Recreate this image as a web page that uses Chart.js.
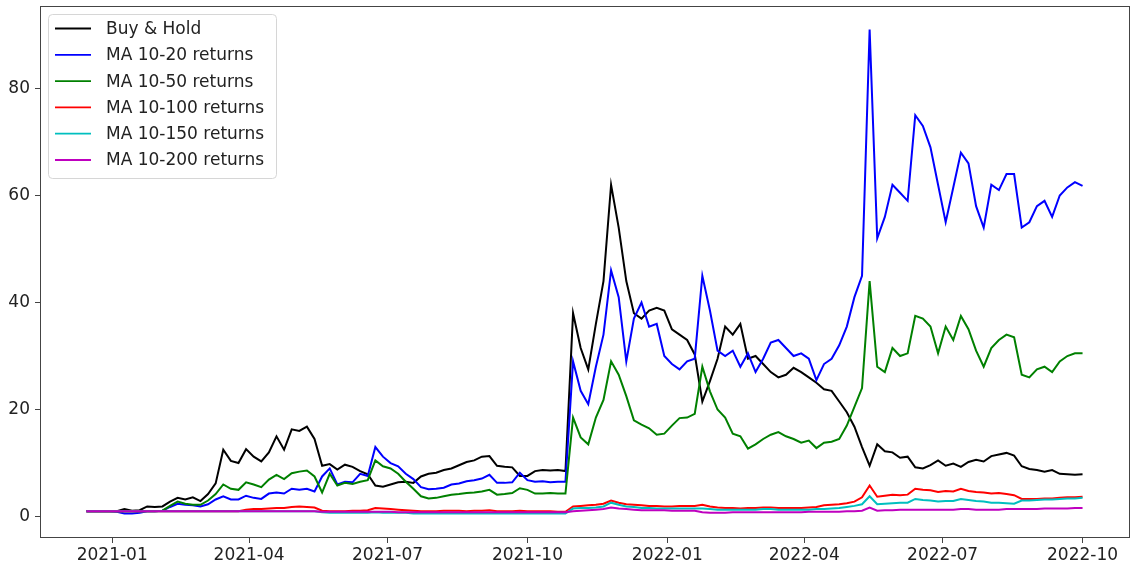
<!DOCTYPE html>
<html>
<head>
<meta charset="utf-8">
<script src="https://cdn.jsdelivr.net/npm/chart.js@4"></script>
<style>
  body { margin: 0; background: #fff; }
</style>
</head>
<body>
<canvas id="line_chart" width="1132" height="566"></canvas>
<script>
// x values are days since 2021-01-01, one point every 5 days from 2020-12-15
const firstDay = -17;
const stepDays = 5;
const tickDays = [0, 90, 181, 273, 365, 455, 546, 638];
const tickLabels = ["2021-01", "2021-04", "2021-07", "2021-10", "2022-01", "2022-04", "2022-07", "2022-10"];
const yTicks = [0, 20, 40, 60, 80];

const labels = ["Buy & Hold", "MA 10-20 returns", "MA 10-50 returns", "MA 10-100 returns", "MA 10-150 returns", "MA 10-200 returns"];
const colors = ["#000000", "#0000ff", "#008000", "#ff0000", "#00bfbf", "#bf00bf"];

const buyHold = [
  1.0,1.0,1.0,1.0,1.0,1.4,1.1,1.2,1.9,1.8,
  1.9,2.8,3.5,3.2,3.6,2.9,4.2,6.2,12.5,10.4,
  10.0,12.6,11.2,10.3,12.0,15.0,12.5,16.3,16.0,16.8,
  14.5,9.5,9.8,8.8,9.7,9.3,8.5,7.9,5.8,5.6,
  6.0,6.4,6.5,6.3,7.5,8.0,8.2,8.7,9.0,9.6,
  10.2,10.5,11.2,11.3,9.5,9.3,9.2,7.6,7.6,8.5,
  8.7,8.6,8.7,8.5,38.0,31.5,27.5,36.0,44.0,62.0,
  54.0,44.0,38.0,37.0,38.5,39.0,38.5,35.0,34.0,33.0,
  30.3,21.5,25.3,29.5,35.5,34.0,36.0,29.5,30.0,28.5,
  27.0,26.0,26.5,27.8,27.0,26.0,25.0,23.8,23.5,21.5,
  19.5,16.8,13.0,9.5,13.5,12.2,12.0,11.0,11.2,9.2,
  9.0,9.6,10.5,9.5,9.9,9.3,10.2,10.6,10.3,11.3,
  11.6,11.9,11.4,9.4,8.9,8.7,8.4,8.7,8.0,7.9,
  7.8,7.9
];
const ma20 = [
  1.0,1.0,1.0,1.0,0.9,0.6,0.6,0.7,1.0,1.0,
  1.1,1.8,2.4,2.2,2.1,1.9,2.3,3.2,3.8,3.2,
  3.2,3.9,3.5,3.3,4.3,4.5,4.3,5.2,5.0,5.2,
  4.7,7.5,9.0,6.0,6.5,6.4,8.0,7.6,13.0,11.2,
  10.0,9.4,8.0,7.0,5.5,5.1,5.2,5.4,6.0,6.2,
  6.6,6.8,7.1,7.8,6.3,6.3,6.4,8.2,6.8,6.5,
  6.6,6.4,6.5,6.5,29.0,23.5,21.0,28.0,34.0,46.0,
  41.0,29.0,37.0,40.0,35.5,36.0,30.0,28.5,27.5,29.0,
  29.5,45.0,38.5,31.0,30.0,31.0,28.0,30.5,27.0,29.5,
  32.5,33.0,31.5,30.0,30.5,29.5,25.5,28.5,29.5,32.0,
  35.5,41.0,45.0,91.0,52.0,56.0,62.0,60.5,59.0,75.0,
  73.0,69.0,62.0,55.0,61.5,68.0,66.0,58.0,54.0,62.0,
  61.0,64.0,64.0,54.0,55.0,58.0,59.0,56.0,60.0,61.5,
  62.5,61.8
];
const ma50 = [
  1.0,1.0,1.0,1.0,1.0,1.0,1.0,1.0,1.0,1.0,
  1.1,2.0,2.8,2.4,2.2,2.2,3.0,4.2,6.0,5.2,
  5.0,6.4,6.0,5.5,6.9,7.8,7.0,8.1,8.4,8.6,
  7.5,4.5,8.0,5.8,6.3,6.1,6.5,6.8,10.5,9.4,
  9.0,8.0,6.5,5.2,3.8,3.4,3.5,3.8,4.1,4.2,
  4.4,4.5,4.7,5.0,4.1,4.2,4.4,5.3,5.0,4.3,
  4.3,4.4,4.3,4.3,18.5,14.8,13.5,18.5,21.8,29.0,
  26.5,22.5,18.0,17.2,16.5,15.3,15.5,17.0,18.4,18.5,
  19.2,28.0,23.4,20.0,18.5,15.5,15.0,12.7,13.5,14.5,
  15.3,15.8,15.0,14.5,13.8,14.2,12.8,13.8,14.0,14.5,
  17.0,20.5,24.0,44.0,28.0,27.0,31.5,30.0,30.5,37.5,
  37.0,35.5,30.5,35.5,33.0,37.5,35.0,31.0,28.0,31.5,
  33.0,34.0,33.5,26.5,26.0,27.5,28.0,27.0,29.0,30.0,
  30.5,30.5
];
const ma100 = [
  1.0,1.0,1.0,1.0,1.0,1.0,1.0,1.0,1.0,1.0,
  1.0,1.0,1.0,1.0,1.0,1.0,1.0,1.0,1.0,1.0,
  1.0,1.3,1.4,1.4,1.5,1.6,1.6,1.8,1.9,1.8,
  1.7,1.1,1.0,1.0,1.0,1.1,1.1,1.2,1.6,1.5,
  1.4,1.3,1.2,1.1,1.0,1.0,1.0,1.1,1.1,1.1,
  1.0,1.1,1.1,1.2,1.0,1.0,1.0,1.1,1.0,1.0,
  1.0,1.0,0.9,0.9,1.9,2.0,2.1,2.2,2.4,3.0,
  2.6,2.3,2.2,2.1,2.0,2.0,1.9,1.9,2.0,2.0,
  2.0,2.2,1.9,1.7,1.6,1.6,1.5,1.6,1.6,1.7,
  1.7,1.6,1.6,1.6,1.6,1.7,1.8,2.1,2.2,2.3,
  2.5,2.8,3.6,5.8,3.7,3.9,4.1,4.0,4.1,5.2,
  5.0,4.9,4.6,4.8,4.7,5.2,4.8,4.6,4.5,4.3,
  4.4,4.2,4.0,3.3,3.3,3.3,3.4,3.4,3.5,3.6,
  3.6,3.7
];
const ma150 = [
  1.0,1.0,1.0,1.0,1.0,1.0,1.0,1.0,1.0,1.0,
  1.0,1.0,1.0,1.0,1.0,1.0,1.0,1.0,1.0,1.0,
  1.0,1.0,1.0,1.0,1.0,1.0,1.0,1.0,1.0,1.0,
  1.0,0.8,0.7,0.7,0.7,0.7,0.7,0.7,0.8,0.7,
  0.7,0.7,0.7,0.6,0.6,0.6,0.6,0.6,0.6,0.6,
  0.6,0.6,0.6,0.6,0.6,0.6,0.6,0.6,0.6,0.6,
  0.6,0.6,0.6,0.6,1.5,1.6,1.6,1.7,1.9,2.6,
  2.2,1.9,1.8,1.6,1.6,1.5,1.5,1.5,1.5,1.5,
  1.5,1.5,1.4,1.3,1.3,1.3,1.3,1.3,1.3,1.4,
  1.4,1.3,1.3,1.3,1.3,1.3,1.4,1.4,1.5,1.6,
  1.8,2.0,2.3,3.8,2.3,2.4,2.5,2.6,2.6,3.3,
  3.1,3.0,2.8,2.9,2.9,3.3,3.1,2.9,2.8,2.6,
  2.6,2.5,2.4,3.0,3.0,3.1,3.2,3.2,3.3,3.4,
  3.4,3.5
];
const ma200 = [
  1.0,1.0,1.0,1.0,1.0,1.0,1.0,1.0,1.0,1.0,
  1.0,1.0,1.0,1.0,1.0,1.0,1.0,1.0,1.0,1.0,
  1.0,1.0,1.0,1.0,1.0,1.0,1.0,1.0,1.0,1.0,
  1.0,0.9,0.9,0.9,0.9,0.9,0.9,0.9,0.9,0.9,
  0.9,0.8,0.8,0.8,0.8,0.8,0.8,0.8,0.8,0.8,
  0.8,0.8,0.8,0.8,0.8,0.8,0.8,0.8,0.8,0.8,
  0.8,0.8,0.8,0.8,1.0,1.1,1.2,1.3,1.4,1.7,
  1.5,1.4,1.3,1.2,1.2,1.2,1.2,1.1,1.1,1.1,
  1.1,0.8,0.7,0.7,0.7,0.8,0.8,0.8,0.8,0.8,
  0.8,0.8,0.8,0.8,0.8,0.9,0.9,0.9,0.9,0.9,
  1.0,1.0,1.1,1.7,1.1,1.2,1.2,1.3,1.3,1.3,
  1.3,1.3,1.3,1.3,1.3,1.4,1.4,1.3,1.3,1.3,
  1.3,1.4,1.4,1.4,1.4,1.4,1.5,1.5,1.5,1.5,
  1.6,1.6
];

const series = [buyHold, ma20, ma50, ma100, ma150, ma200];
const days = buyHold.map((v, i) => firstDay + i * stepDays);

const datasets = series.map((vals, i) => ({
  label: labels[i],
  data: vals.map((v, j) => ({ x: days[j], y: v })),
  borderColor: colors[i],
  backgroundColor: colors[i],
  borderWidth: 2,
  pointRadius: 0,
  tension: 0,
  order: series.length - i   // later series on top, like matplotlib
}));

const FONT = "'DejaVu Sans', sans-serif";
const TEXT = "#222";
const SPINE = "#444";

// box around plot + legend in the upper left
const frameAndLegend = {
  id: "frameAndLegend",
  afterDraw(chart) {
    const ctx = chart.ctx;
    const a = chart.chartArea;
    ctx.save();
    ctx.strokeStyle = SPINE;
    ctx.lineWidth = 1;
    ctx.strokeRect(Math.round(a.left) + 0.5, Math.round(a.top) + 0.5,
      Math.round(a.right - a.left) - 1, Math.round(a.bottom - a.top) - 1);

    const bx = 48.5, by = 14.5, bw = 228, bh = 164;
    ctx.beginPath();
    ctx.roundRect(bx, by, bw, bh, 4);
    ctx.fillStyle = "rgba(255,255,255,0.8)";
    ctx.fill();
    ctx.strokeStyle = "#d6d6d6";
    ctx.stroke();

    ctx.font = "17px " + FONT;
    ctx.textBaseline = "middle";
    ctx.textAlign = "left";
    labels.forEach((lab, i) => {
      const y = 28.5 + i * 26.3;
      ctx.beginPath();
      ctx.moveTo(55, y);
      ctx.lineTo(91, y);
      ctx.strokeStyle = colors[i];
      ctx.lineWidth = 1.8;
      ctx.stroke();
      ctx.fillStyle = TEXT;
      ctx.fillText(lab, 106, y + 1);
    });
    ctx.restore();
  }
};

const ctx1 = document.getElementById("line_chart").getContext("2d");
const chart1 = new Chart(ctx1, {
  type: "line",
  data: { datasets: datasets },
  options: {
    responsive: false,
    animation: false,
    layout: { padding: { top: 6, right: 2, left: 0, bottom: 0 } },
    plugins: {
      legend: { display: false },
      tooltip: { enabled: false }
    },
    scales: {
      x: {
        type: "linear",
        min: -47.5,
        max: 669.2,
        afterBuildTicks: (scale) => { scale.ticks = tickDays.map(v => ({ value: v })); },
        afterFit: (scale) => { scale.height = 28; scale.paddingLeft = 0; scale.paddingRight = 0; },
        ticks: {
          autoSkip: false,
          maxRotation: 0,
          padding: 2,
          color: TEXT,
          font: { family: FONT, size: 17 },
          callback: (v) => tickLabels[tickDays.indexOf(v)]
        },
        grid: { display: true, drawOnChartArea: false, drawTicks: true, tickLength: 5, color: SPINE },
        border: { display: false }
      },
      y: {
        type: "linear",
        min: -4.0,
        max: 95.4,
        afterBuildTicks: (scale) => { scale.ticks = yTicks.map(v => ({ value: v })); },
        afterFit: (scale) => { scale.width = 40; scale.paddingTop = 0; scale.paddingBottom = 0; },
        ticks: {
          padding: 5,
          color: TEXT,
          font: { family: FONT, size: 17 },
          callback: (v) => String(v)
        },
        grid: { display: true, drawOnChartArea: false, drawTicks: true, tickLength: 5, color: SPINE },
        border: { display: false }
      }
    }
  },
  plugins: [frameAndLegend]
});
</script>
</body>
</html>
